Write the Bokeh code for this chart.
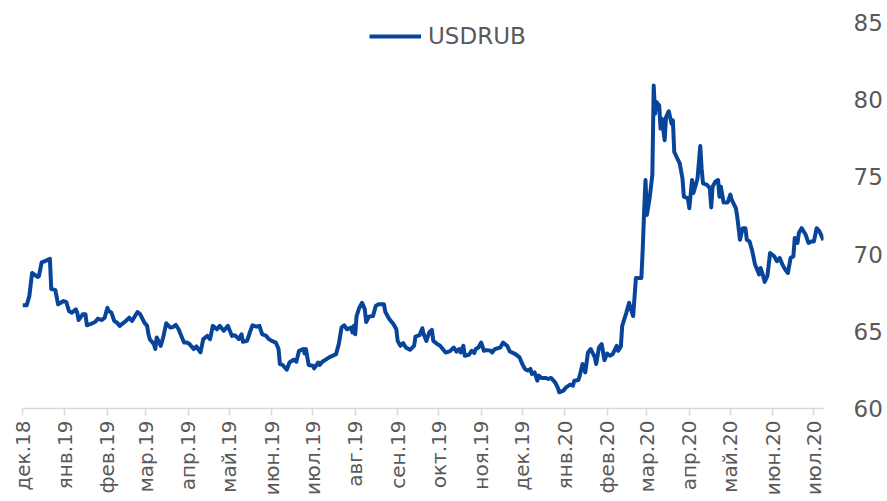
import math
from datetime import datetime
import pandas as pd
from bokeh.plotting import figure
from bokeh.models import (Range1d, FixedTicker, CustomJSTickFormatter, Legend, LegendItem,
                          ColumnDataSource)
from bokeh.embed import file_html
from bokeh.resources import INLINE

SERIES_NAME = "USDRUB"

dates = [
    "2018-12-01", "2018-12-04", "2018-12-06", "2018-12-08", "2018-12-12", "2018-12-13", "2018-12-15",
    "2018-12-17", "2018-12-21", "2018-12-22", "2018-12-25", "2018-12-27", "2018-12-31", "2019-01-02",
    "2019-01-04", "2019-01-06", "2019-01-09", "2019-01-10", "2019-01-11", "2019-01-14", "2019-01-16",
    "2019-01-17", "2019-01-21", "2019-01-23", "2019-01-25", "2019-01-28", "2019-01-30", "2019-02-01",
    "2019-02-02", "2019-02-04", "2019-02-06", "2019-02-08", "2019-02-10", "2019-02-13", "2019-02-17",
    "2019-02-19", "2019-02-23", "2019-02-25", "2019-02-28", "2019-03-02", "2019-03-03", "2019-03-04",
    "2019-03-07", "2019-03-08", "2019-03-09", "2019-03-12", "2019-03-14", "2019-03-16", "2019-03-19",
    "2019-03-21", "2019-03-23", "2019-03-25", "2019-03-27", "2019-03-29", "2019-03-31", "2019-04-02",
    "2019-04-05", "2019-04-07", "2019-04-10", "2019-04-12", "2019-04-15", "2019-04-17", "2019-04-19",
    "2019-04-22", "2019-04-24", "2019-04-27", "2019-04-30", "2019-05-03", "2019-05-05", "2019-05-08",
    "2019-05-10", "2019-05-11", "2019-05-14", "2019-05-16", "2019-05-18", "2019-05-21", "2019-05-23",
    "2019-05-25", "2019-05-28", "2019-05-30", "2019-06-01", "2019-06-04", "2019-06-06", "2019-06-07",
    "2019-06-09", "2019-06-12", "2019-06-14", "2019-06-17", "2019-06-19", "2019-06-21", "2019-06-24",
    "2019-06-25", "2019-06-26", "2019-06-28", "2019-07-01", "2019-07-02", "2019-07-05", "2019-07-06",
    "2019-07-08", "2019-07-13", "2019-07-18", "2019-07-20", "2019-07-22", "2019-07-24", "2019-07-26",
    "2019-07-29", "2019-07-30", "2019-07-31", "2019-08-01", "2019-08-02", "2019-08-04", "2019-08-06",
    "2019-08-08", "2019-08-09", "2019-08-11", "2019-08-14", "2019-08-16", "2019-08-18", "2019-08-22",
    "2019-08-23", "2019-08-26", "2019-08-29", "2019-08-31", "2019-09-01", "2019-09-03", "2019-09-05",
    "2019-09-07", "2019-09-10", "2019-09-13", "2019-09-14", "2019-09-17", "2019-09-19", "2019-09-20",
    "2019-09-22", "2019-09-24", "2019-09-26", "2019-09-27", "2019-09-30", "2019-10-02", "2019-10-06",
    "2019-10-09", "2019-10-12", "2019-10-14", "2019-10-16", "2019-10-17", "2019-10-19", "2019-10-20",
    "2019-10-23", "2019-10-25", "2019-10-27", "2019-10-28", "2019-10-30", "2019-11-01", "2019-11-03",
    "2019-11-05", "2019-11-08", "2019-11-09", "2019-11-11", "2019-11-15", "2019-11-17", "2019-11-20",
    "2019-11-22", "2019-11-26", "2019-11-29", "2019-12-01", "2019-12-03", "2019-12-05", "2019-12-07",
    "2019-12-08", "2019-12-10", "2019-12-12", "2019-12-13", "2019-12-15", "2019-12-18", "2019-12-20",
    "2019-12-22", "2019-12-25", "2019-12-27", "2019-12-28", "2019-12-31", "2020-01-02", "2020-01-05",
    "2020-01-07", "2020-01-08", "2020-01-11", "2020-01-12", "2020-01-14", "2020-01-16", "2020-01-18",
    "2020-01-20", "2020-01-23", "2020-01-24", "2020-01-26", "2020-01-28", "2020-01-30", "2020-02-01",
    "2020-02-03", "2020-02-05", "2020-02-08", "2020-02-09", "2020-02-11", "2020-02-12", "2020-02-15",
    "2020-02-17", "2020-02-18", "2020-02-20", "2020-02-22", "2020-02-26", "2020-02-27", "2020-02-28",
    "2020-02-29", "2020-03-01", "2020-03-03", "2020-03-05", "2020-03-06", "2020-03-07", "2020-03-08",
    "2020-03-10", "2020-03-11", "2020-03-12", "2020-03-14", "2020-03-15", "2020-03-17", "2020-03-19",
    "2020-03-20", "2020-03-21", "2020-03-23", "2020-03-25", "2020-03-27", "2020-03-28", "2020-03-31",
    "2020-04-01", "2020-04-03", "2020-04-04", "2020-04-07", "2020-04-09", "2020-04-10", "2020-04-11",
    "2020-04-14", "2020-04-16", "2020-04-17", "2020-04-18", "2020-04-20", "2020-04-22", "2020-04-23",
    "2020-04-24", "2020-04-26", "2020-04-29", "2020-05-01", "2020-05-02", "2020-05-05", "2020-05-06",
    "2020-05-08", "2020-05-10", "2020-05-12", "2020-05-13", "2020-05-15", "2020-05-17", "2020-05-19",
    "2020-05-22", "2020-05-23", "2020-05-25", "2020-05-26", "2020-05-28", "2020-05-30", "2020-06-02",
    "2020-06-04", "2020-06-06", "2020-06-08", "2020-06-10", "2020-06-12", "2020-06-14", "2020-06-16",
    "2020-06-17", "2020-06-19", "2020-06-20", "2020-06-22", "2020-06-25", "2020-06-27", "2020-06-29",
    "2020-07-01", "2020-07-03", "2020-07-05", "2020-07-08",
]

usdrub = [
    66.68, 66.68, 67.28, 68.78, 68.52, 68.57, 69.47,
    69.53, 69.69, 67.75, 67.66, 66.75, 66.96, 66.89,
    66.31, 66.20, 66.42, 66.20, 65.73, 66.10, 66.10,
    65.39, 65.52, 65.60, 65.82, 65.73, 65.88, 66.53,
    66.31, 66.20, 65.67, 65.56, 65.35, 65.56, 65.88,
    65.67, 66.25, 66.10, 65.56, 65.35, 64.81, 64.49,
    64.17, 63.85, 64.60, 64.06, 64.70, 65.52, 65.24,
    65.28, 65.41, 65.13, 64.70, 64.27, 64.27, 64.17,
    63.85, 64.02, 63.63, 64.49, 64.70, 64.49, 65.35,
    65.13, 65.35, 65.03, 65.35, 64.70, 64.75, 64.49,
    64.81, 64.32, 64.38, 64.92, 65.39, 65.30, 65.35,
    64.81, 64.70, 64.49, 64.38, 64.27, 63.85, 62.88,
    62.82, 62.51, 62.98, 63.16, 63.03, 63.74, 63.85,
    63.57, 63.85, 62.82, 62.77, 62.60, 62.98, 62.82,
    63.03, 63.31, 63.52, 64.17, 65.24, 65.39, 65.13,
    65.24, 64.92, 65.35, 64.81, 65.99, 66.53, 66.85,
    66.42, 65.60, 65.95, 65.99, 66.64, 66.75, 66.75,
    66.25, 65.78, 65.46, 65.13, 64.38, 64.06, 64.23,
    63.95, 63.80, 64.06, 64.66, 64.75, 65.20, 64.81,
    64.38, 64.92, 65.09, 64.38, 64.17, 64.06, 63.63,
    63.70, 63.95, 63.69, 63.85, 63.63, 64.06, 63.42,
    63.48, 63.74, 63.60, 63.85, 63.95, 64.27, 63.74,
    63.78, 63.74, 63.63, 63.85, 63.95, 64.27, 64.06,
    63.69, 63.52, 63.31, 62.88, 62.56, 62.45, 62.56,
    62.24, 62.34, 61.80, 62.13, 61.98, 61.98, 61.91,
    61.98, 61.69, 61.33, 61.05, 61.16, 61.37, 61.55,
    61.48, 61.80, 61.85, 62.13, 62.88, 62.34, 63.63,
    63.85, 63.31, 62.88, 63.95, 64.17, 63.13, 63.56,
    63.42, 63.52, 64.06, 63.74, 64.00, 65.35, 66.20,
    66.85, 66.53, 65.99, 68.46, 68.46, 70.39, 72.76,
    74.80, 72.54, 73.61, 75.12, 80.92, 79.09, 79.85,
    79.63, 78.13, 78.77, 77.38, 78.88, 79.25, 78.45,
    78.66, 76.62, 76.24, 75.87, 74.90, 73.72, 73.61,
    72.97, 74.80, 73.96, 74.90, 77.00, 75.55, 74.58,
    74.48, 74.26, 73.02, 74.37, 74.69, 74.80, 73.72,
    74.37, 73.35, 73.35, 73.85, 73.51, 72.97, 72.43,
    70.93, 71.68, 71.68, 70.93, 70.82, 70.18, 69.32,
    68.68, 69.10, 68.57, 68.20, 68.57, 70.07, 69.86,
    69.54, 69.75, 69.32, 69.00, 68.78, 69.75, 69.86,
    71.04, 70.72, 71.37, 71.68, 71.25, 70.72, 70.82,
    70.82, 71.68, 71.47, 70.90,
]

tick_dates = [
    "2018-12-01", "2019-01-01", "2019-02-01", "2019-03-01", "2019-04-01", "2019-05-01",
    "2019-06-01", "2019-07-01", "2019-08-01", "2019-09-01", "2019-10-01", "2019-11-01",
    "2019-12-01", "2020-01-01", "2020-02-01", "2020-03-01", "2020-04-01", "2020-05-01",
    "2020-06-01", "2020-07-01",
]
tick_labels = [
    "дек.18", "янв.19", "фев.19", "мар.19", "апр.19", "май.19", "июн.19", "июл.19",
    "авг.19", "сен.19", "окт.19", "ноя.19", "дек.19", "янв.20", "фев.20", "мар.20",
    "апр.20", "май.20", "июн.20", "июл.20",
]
y_ticks = [60, 65, 70, 75, 80, 85]

LINE_COLOR = "#07449a"
TEXT_COLOR = "#595959"
AXIS_COLOR = "#d9d9d9"
FONT = "DejaVu Sans"

src = ColumnDataSource(dict(x=pd.to_datetime(dates), y=usdrub))

p = figure(width=885, height=499, x_axis_type="datetime", y_axis_location="right",
           output_backend="svg", toolbar_location=None,
           x_range=Range1d(datetime(2018, 12, 1), datetime(2020, 7, 8)),
           y_range=Range1d(60, 85),
           min_border_left=22, min_border_right=57, min_border_top=22, min_border_bottom=91)
p.outline_line_color = None
p.grid.visible = False
p.background_fill_color = "white"
p.border_fill_color = "white"

r = p.line("x", "y", source=src, line_color=LINE_COLOR, line_width=4, line_join="round")

tick_ms = [pd.Timestamp(d).value // 10**6 for d in tick_dates]
xa = p.xaxis[0]
xa.ticker = FixedTicker(ticks=tick_ms)
xa.formatter = CustomJSTickFormatter(args=dict(t=tick_ms, l=tick_labels), code="""
for (let i = 0; i < t.length; i++) { if (Math.abs(t[i] - tick) < 1e6) return l[i]; }
return "";
""")
xa.major_label_orientation = math.pi / 2
xa.axis_line_color = AXIS_COLOR
xa.axis_line_width = 1.5
xa.major_tick_line_color = AXIS_COLOR
xa.major_tick_line_width = 1.5
xa.major_tick_in = 0
xa.major_tick_out = 7
xa.minor_tick_line_color = None
xa.major_label_text_font = FONT
xa.major_label_text_font_size = "20px"
xa.major_label_text_color = TEXT_COLOR
xa.major_label_standoff = 5

ya = p.yaxis[0]
ya.ticker = FixedTicker(ticks=y_ticks)
ya.axis_line_color = None
ya.major_tick_line_color = None
ya.minor_tick_line_color = None
ya.major_label_text_font = FONT
ya.major_label_text_font_size = "23px"
ya.major_label_text_color = TEXT_COLOR
ya.major_label_standoff = 24

legend = Legend(items=[LegendItem(label=SERIES_NAME, renderers=[r])],
                location=(347, 357), orientation="horizontal",
                padding=0, margin=0, spacing=0,
                glyph_width=52, glyph_height=30, label_height=30, label_standoff=7,
                label_text_font=FONT, label_text_font_size="23px",
                label_text_color=TEXT_COLOR,
                border_line_color=None, background_fill_alpha=0)
p.add_layout(legend, "center")

open("out.html", "w").write(file_html(p, INLINE))
